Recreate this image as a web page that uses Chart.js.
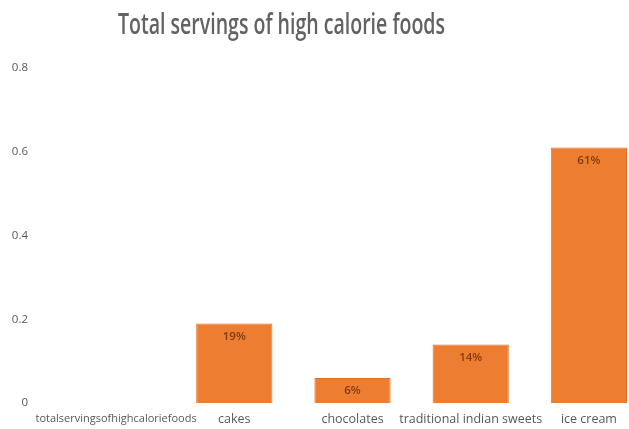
<!DOCTYPE html>
<html>
<head>
<meta charset="utf-8">
<script src="https://cdn.jsdelivr.net/npm/chart.js@4"></script>
<style>
  html, body { margin: 0; padding: 0; background: #fff; overflow: hidden; width: 629px; height: 429px; }
  #wrap { position: absolute; left: 0; top: 0; width: 648px; height: 429px; }
</style>
</head>
<body>
<div id="wrap"><canvas id="c" width="648" height="429"></canvas></div>
<script>
const titleText = "Total servings of high calorie foods";
const categories = ["totalservingsofhighcaloriefoods", "cakes", "chocolates", "traditional indian sweets", "ice cream"];
const servingShares = [0, 0.19, 0.06, 0.14, 0.61];
const shareLabels = ["", "19%", "6%", "14%", "61%"];
const yTicks = [0, 0.2, 0.4, 0.6, 0.8];

const textGrey = '#595959';
const fontFamily = '"Open Sans", "Liberation Sans", sans-serif';

const titlePlugin = {
  id: 'customTitle',
  afterDraw(chart) {
    const ctx = chart.ctx;
    ctx.save();
    ctx.font = '600 28px ' + fontFamily;
    ctx.fillStyle = '#626262';
    ctx.textAlign = 'left';
    ctx.textBaseline = 'alphabetic';
    const w = ctx.measureText(titleText).width;
    const targetW = 327;
    ctx.translate(118, 34);
    ctx.scale(targetW / w, 1);
    ctx.fillText(titleText, 0, 0);
    ctx.restore();
  }
};

const labelPlugin = {
  id: 'barLabels',
  afterDatasetsDraw(chart) {
    const ctx = chart.ctx;
    const meta = chart.getDatasetMeta(0);
    ctx.save();
    ctx.font = '600 11.5px ' + fontFamily;
    ctx.fillStyle = '#843c0c';
    ctx.textAlign = 'center';
    ctx.textBaseline = 'middle';
    meta.data.forEach((bar, i) => {
      if (!shareLabels[i]) return;
      ctx.fillText(shareLabels[i], bar.x, bar.y + 13);
    });
    ctx.restore();
  }
};

new Chart(document.getElementById('c'), {
  type: 'bar',
  data: {
    labels: categories,
    datasets: [{
      data: servingShares,
      backgroundColor: '#ED7D31',
      borderColor: '#E0732A',
      borderWidth: 1,
      barPercentage: 0.645,
      categoryPercentage: 1.0
    }]
  },
  options: {
    responsive: false,
    animation: false,
    devicePixelRatio: 1,
    layout: { padding: { top: 68, left: 0, right: 0, bottom: 0 } },
    plugins: {
      legend: { display: false },
      title: { display: false },
      tooltip: { enabled: false }
    },
    scales: {
      x: {
        grid: { display: false, drawTicks: false },
        border: { display: false },
        ticks: {
          color: textGrey,
          font: c => ({ family: fontFamily, size: c.index === 0 ? 11 : 12.5 }),
          padding: 9,
          maxRotation: 0,
          autoSkip: false
        },
        afterFit(scale) { scale.height = 26; }
      },
      y: {
        min: 0,
        max: 0.8,
        grid: { display: false, drawTicks: false },
        border: { display: false },
        afterBuildTicks(scale) { scale.ticks = yTicks.map(v => ({ value: v })); },
        ticks: {
          color: textGrey,
          font: { family: fontFamily, size: 11.5 },
          padding: 29,
          callback: v => String(v)
        },
        afterFit(scale) {
          scale.width = 57;
          scale.paddingTop = 0;
          scale.paddingBottom = 0;
        }
      }
    }
  },
  plugins: [titlePlugin, labelPlugin]
});
</script>
</body>
</html>
